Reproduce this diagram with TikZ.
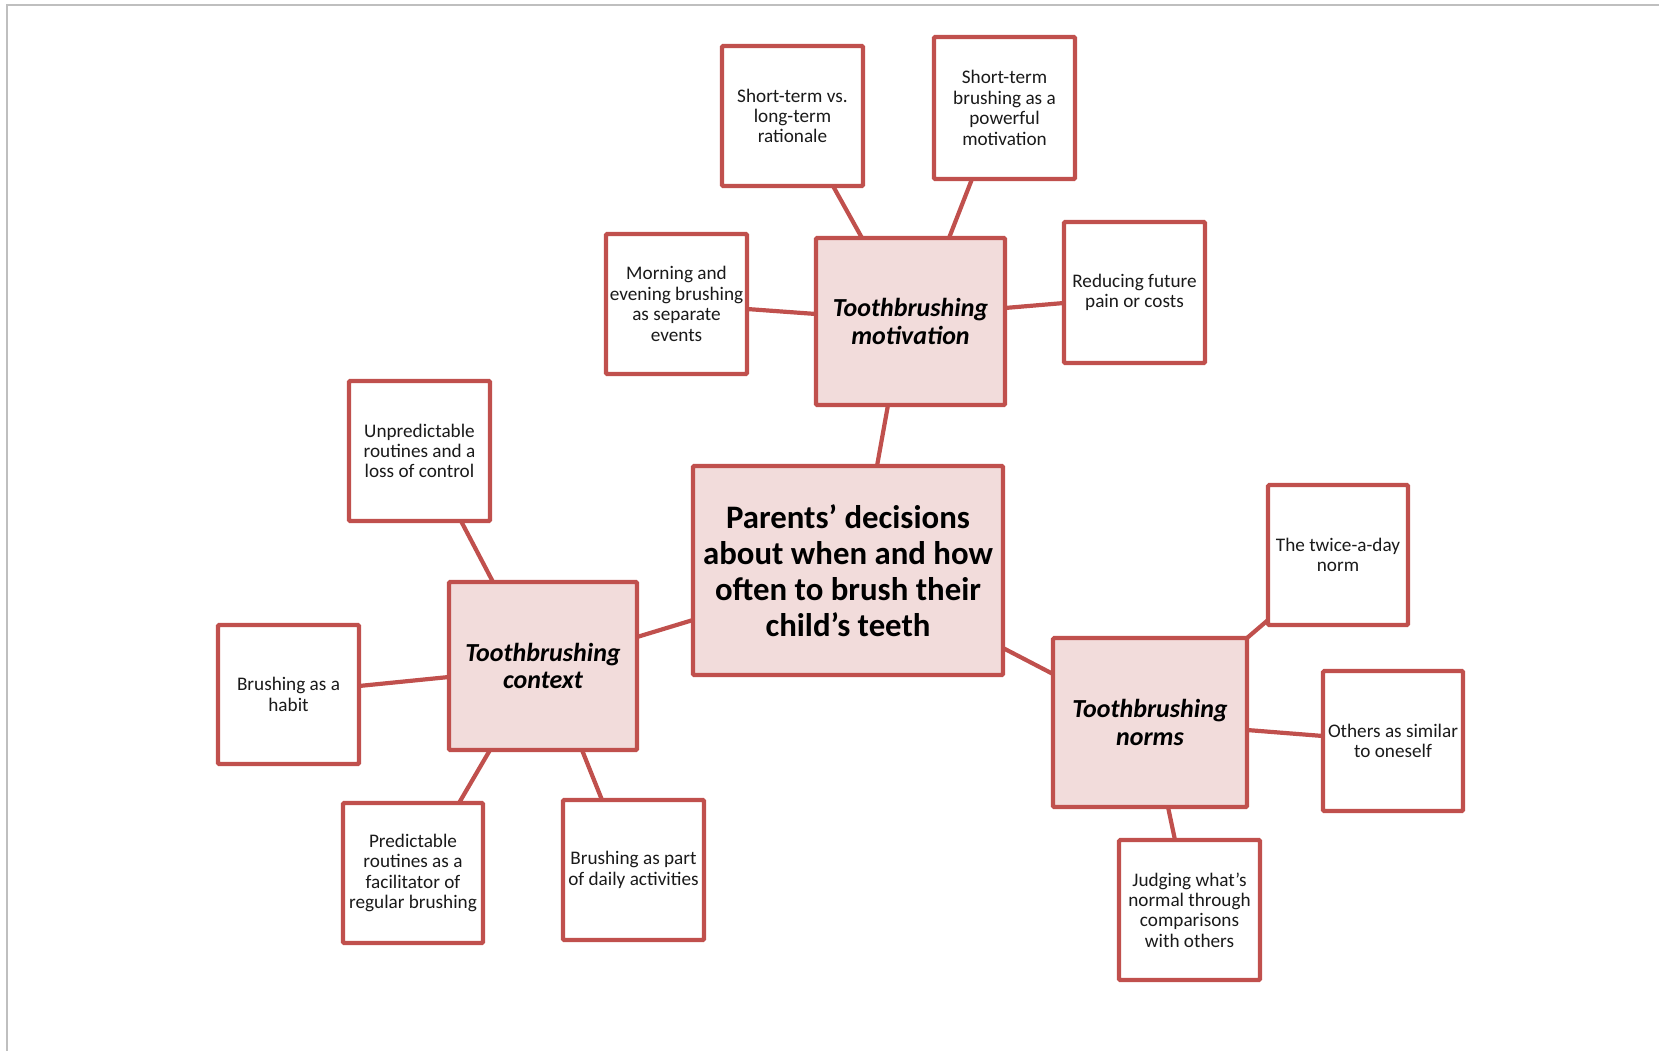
\documentclass[tikz,border=0pt]{standalone}
\usepackage{fontspec}
\setmainfont{Carlito}
\definecolor{boxred}{HTML}{C0504D}
\definecolor{boxpink}{HTML}{F2DCDB}
\definecolor{pageedge}{HTML}{BFBFBF}
\definecolor{bodytext}{HTML}{1A1A1A}
\begin{document}
\begin{tikzpicture}[x=1pt,y=-1pt,
  every node/.style={inner sep=0pt, outer sep=0pt},
  leaf/.style={draw=boxred, line width=4.2pt, fill=white, rounded corners=1.2pt,
    minimum width=141pt, minimum height=140pt, align=center, text=bodytext,
    font=\fontsize{19.2}{20.4}\selectfont},
  theme/.style={draw=boxred, line width=4.2pt, fill=boxpink, rounded corners=1.2pt,
    align=center, text=black, font=\fontsize{26}{27.8}\selectfont\bfseries\itshape},
  core/.style={draw=boxred, line width=4.2pt, fill=boxpink, rounded corners=1.2pt,
    align=center, text=black, font=\fontsize{32.8}{36}\selectfont\bfseries},
  link/.style={draw=boxred, line width=4.2pt}]

\useasboundingbox (0,0) rectangle (1659,1051);
% page edge
\draw[pageedge, line width=2pt] (1659,5) -- (7,5) -- (7,1051);

% central node
\node[core, minimum width=310pt, minimum height=209pt] (cen) at (848,570.5)
  {Parents’ decisions\\about when and how\\often to brush their\\child’s teeth};

% themes
\node[theme, minimum width=189pt, minimum height=167pt] (mot) at (910.5,321.5)
  {Toothbrushing\\motivation};
\node[theme, minimum width=188pt, minimum height=168pt] (ctx) at (543,666)
  {Toothbrushing\\context};
\node[theme, minimum width=194pt, minimum height=169pt] (nrm) at (1150,722.5)
  {Toothbrushing\\norms};

% motivation subthemes
\node[leaf] (stv) at (792.5,116) {Short-term vs.\\long-term\\rationale};
\node[leaf, minimum height=142pt] (stb) at (1004.5,108) {Short-term\\brushing as a\\powerful\\motivation};
\node[leaf] (mor) at (676.5,304) {Morning and\\evening brushing\\as separate\\events};
\node[leaf, minimum height=141pt] (red) at (1134.5,292.5) {Reducing future\\pain or costs};

% context subthemes
\node[leaf] (unp) at (419.5,451) {Unpredictable\\routines and a\\loss of control};
\node[leaf, minimum height=139pt] (hab) at (288.5,694.5) {Brushing as a\\habit};
\node[leaf, minimum width=140pt] (pre) at (413,873) {Predictable\\routines as a\\facilitator of\\regular brushing};
\node[leaf] (day) at (633.5,870) {Brushing as part\\of daily activities};

% norms subthemes
\node[leaf, minimum width=140pt] (twi) at (1338,555) {The twice-a-day\\norm};
\node[leaf, minimum width=140pt] (oth) at (1393,741) {Others as similar\\to oneself};
\node[leaf] (jud) at (1189.5,910) {Judging what’s\\normal through\\comparisons\\with others};

% connectors
\draw[link] ([xshift=40.5pt]stv.south) -- ([xshift=-48.5pt]mot.north);
\draw[link] ([xshift=-32.5pt]stb.south) -- ([xshift=38.5pt]mot.north);
\draw[link] ([yshift=-5pt]mor.east) -- ([yshift=7.5pt]mot.west);
\draw[link] ([yshift=13.5pt]mot.east) -- ([yshift=-10.5pt]red.west);
\draw[link] ([xshift=-22.5pt]mot.south) -- ([xshift=29pt]cen.north);

\draw[link] ([xshift=41.5pt]unp.south) -- ([xshift=-50pt]ctx.north);
\draw[link] ([yshift=8.5pt]hab.east) -- ([yshift=-11pt]ctx.west);
\draw[link] ([yshift=29pt]ctx.east) -- ([yshift=-49.5pt]cen.west);
\draw[link] ([xshift=-53pt]ctx.south) -- ([xshift=46pt]pre.north);
\draw[link] ([xshift=39pt]ctx.south) -- ([xshift=-31.5pt]day.north);

\draw[link] ([yshift=-77.5pt]cen.east) -- ([yshift=48.5pt]nrm.west);
\draw[link] (nrm.north east) -- ([yshift=-65pt]twi.west);
\draw[link] ([yshift=-7.5pt]nrm.east) -- ([yshift=5pt]oth.west);
\draw[link] ([xshift=18pt]nrm.south) -- ([xshift=-14.5pt]jud.north);
\end{tikzpicture}
\end{document}
